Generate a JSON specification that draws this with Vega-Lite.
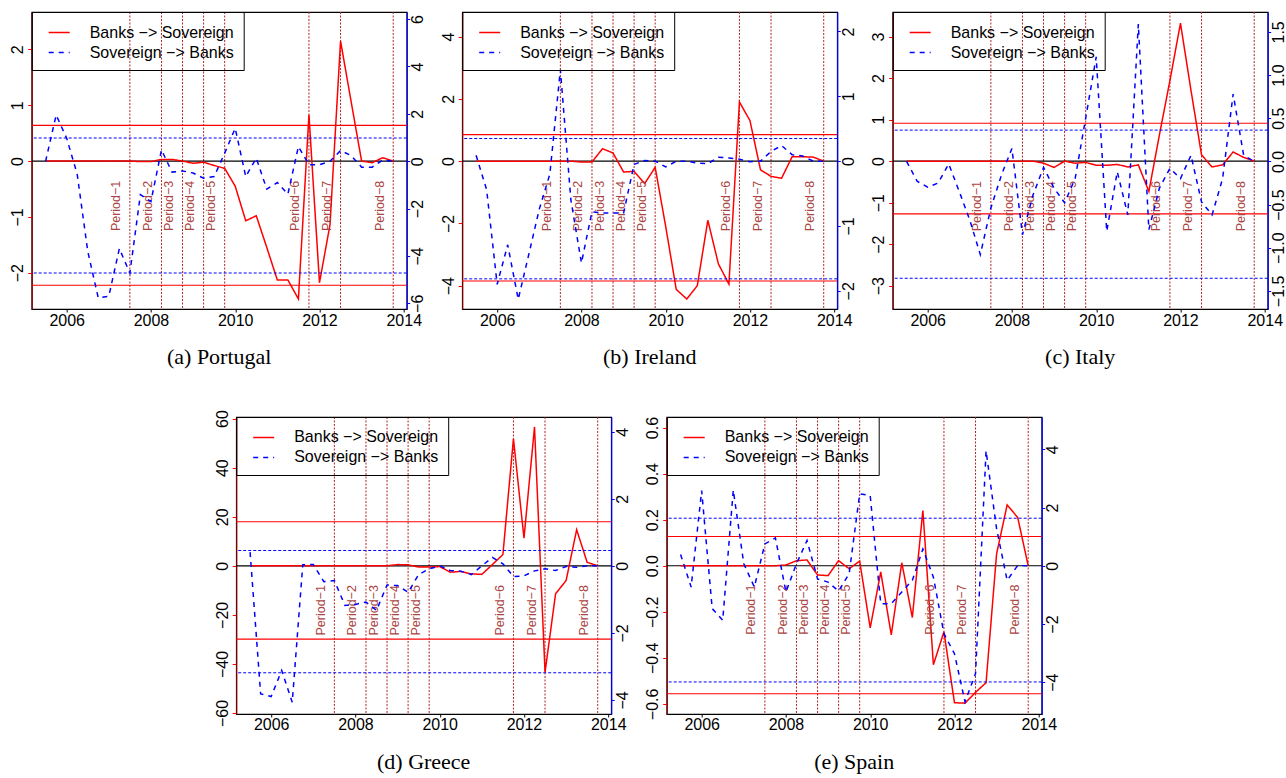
{
"$schema": "https://vega.github.io/schema/vega-lite/v6.json",
"padding": {"left": 8.7, "top": 10, "right": 0, "bottom": 0},
"datasets": {
"periods": [
{"t":2007.5,"p":"Period−1"},{"t":2008.25,"p":"Period−2"},{"t":2008.75,"p":"Period−3"},{"t":2009.25,"p":"Period−4"},{"t":2009.75,"p":"Period−5"},{"t":2011.75,"p":"Period−6"},{"t":2012.5,"p":"Period−7"},{"t":2013.75,"p":"Period−8"}
],
"ref": [
{"c":"PT","side":"L","v":0.64},{"c":"PT","side":"L","v":-2.225},{"c":"PT","side":"R","v":0.98},{"c":"PT","side":"R","v":-4.72},{"c":"PT","side":"Z","v":0},
{"c":"IE","side":"L","v":0.853},{"c":"IE","side":"L","v":-3.85},{"c":"IE","side":"R","v":0.349},{"c":"IE","side":"R","v":-1.815},{"c":"IE","side":"Z","v":0},
{"c":"IT","side":"L","v":0.912},{"c":"IT","side":"L","v":-1.272},{"c":"IT","side":"R","v":0.362},{"c":"IT","side":"R","v":-1.354},{"c":"IT","side":"Z","v":0},
{"c":"GR","side":"L","v":17.96},{"c":"GR","side":"L","v":-29.9},{"c":"GR","side":"R","v":0.458},{"c":"GR","side":"R","v":-3.19},{"c":"GR","side":"Z","v":0},
{"c":"ES","side":"L","v":0.127},{"c":"ES","side":"L","v":-0.556},{"c":"ES","side":"R","v":1.634},{"c":"ES","side":"R","v":-3.99},{"c":"ES","side":"Z","v":0}
],
"series": [
{"c":"PT","t":2005.5,"bs":0,"sb":0},{"c":"PT","t":2005.75,"bs":0,"sb":1.95},{"c":"PT","t":2006,"bs":0,"sb":0.97},{"c":"PT","t":2006.25,"bs":0,"sb":-0.55},{"c":"PT","t":2006.5,"bs":0,"sb":-3.8},{"c":"PT","t":2006.75,"bs":0,"sb":-5.77},{"c":"PT","t":2007,"bs":0,"sb":-5.7},{"c":"PT","t":2007.25,"bs":0,"sb":-3.69},{"c":"PT","t":2007.5,"bs":0,"sb":-4.72},{"c":"PT","t":2007.75,"bs":-0.01,"sb":-1.41},{"c":"PT","t":2008,"bs":-0.01,"sb":-1.7},{"c":"PT","t":2008.25,"bs":0.03,"sb":0.48},{"c":"PT","t":2008.5,"bs":0.03,"sb":-0.46},{"c":"PT","t":2008.75,"bs":0,"sb":-0.41},{"c":"PT","t":2009,"bs":-0.04,"sb":-0.5},{"c":"PT","t":2009.25,"bs":-0.02,"sb":-0.72},{"c":"PT","t":2009.5,"bs":-0.08,"sb":-0.65},{"c":"PT","t":2009.75,"bs":-0.13,"sb":0.34},{"c":"PT","t":2010,"bs":-0.45,"sb":1.39},{"c":"PT","t":2010.25,"bs":-1.07,"sb":-0.65},{"c":"PT","t":2010.5,"bs":-0.98,"sb":0.13},{"c":"PT","t":2010.75,"bs":-1.55,"sb":-1.18},{"c":"PT","t":2011,"bs":-2.13,"sb":-0.9},{"c":"PT","t":2011.25,"bs":-2.13,"sb":-1.39},{"c":"PT","t":2011.5,"bs":-2.47,"sb":0.62},{"c":"PT","t":2011.75,"bs":0.83,"sb":-0.15},{"c":"PT","t":2012,"bs":-2.18,"sb":-0.15},{"c":"PT","t":2012.25,"bs":-1.14,"sb":0},{"c":"PT","t":2012.5,"bs":2.15,"sb":0.45},{"c":"PT","t":2012.75,"bs":1.07,"sb":0.24},{"c":"PT","t":2013,"bs":0,"sb":-0.25},{"c":"PT","t":2013.25,"bs":-0.03,"sb":-0.25},{"c":"PT","t":2013.5,"bs":0.06,"sb":0.05},{"c":"PT","t":2013.75,"bs":0,"sb":0},
{"c":"IE","t":2005.5,"bs":0,"sb":0.09},{"c":"IE","t":2005.75,"bs":0,"sb":-0.44},{"c":"IE","t":2006,"bs":0,"sb":-1.9},{"c":"IE","t":2006.25,"bs":0,"sb":-1.29},{"c":"IE","t":2006.5,"bs":0,"sb":-2.13},{"c":"IE","t":2006.75,"bs":0,"sb":-1.44},{"c":"IE","t":2007,"bs":0,"sb":-0.74},{"c":"IE","t":2007.25,"bs":0,"sb":-0.2},{"c":"IE","t":2007.5,"bs":0,"sb":1.41},{"c":"IE","t":2007.75,"bs":0,"sb":-0.6},{"c":"IE","t":2008,"bs":-0.03,"sb":-1.57},{"c":"IE","t":2008.25,"bs":-0.03,"sb":-0.78},{"c":"IE","t":2008.5,"bs":0.4,"sb":-0.8},{"c":"IE","t":2008.75,"bs":0.26,"sb":-0.8},{"c":"IE","t":2009,"bs":-0.35,"sb":-0.8},{"c":"IE","t":2009.25,"bs":-0.33,"sb":-0.05},{"c":"IE","t":2009.5,"bs":-0.72,"sb":0.01},{"c":"IE","t":2009.75,"bs":-0.2,"sb":0},{"c":"IE","t":2010,"bs":-2.1,"sb":-0.09},{"c":"IE","t":2010.25,"bs":-4.12,"sb":0},{"c":"IE","t":2010.5,"bs":-4.43,"sb":0},{"c":"IE","t":2010.75,"bs":-4.0,"sb":-0.03},{"c":"IE","t":2011,"bs":-1.9,"sb":-0.04},{"c":"IE","t":2011.25,"bs":-3.3,"sb":0.06},{"c":"IE","t":2011.5,"bs":-3.95,"sb":0.05},{"c":"IE","t":2011.75,"bs":1.9,"sb":0.03},{"c":"IE","t":2012,"bs":1.3,"sb":-0.01},{"c":"IE","t":2012.25,"bs":-0.28,"sb":0},{"c":"IE","t":2012.5,"bs":-0.49,"sb":0.15},{"c":"IE","t":2012.75,"bs":-0.55,"sb":0.24},{"c":"IE","t":2013,"bs":0.14,"sb":0.1},{"c":"IE","t":2013.25,"bs":0.14,"sb":0.08},{"c":"IE","t":2013.5,"bs":0.13,"sb":0},{"c":"IE","t":2013.75,"bs":0,"sb":0},
{"c":"IT","t":2005.5,"bs":0,"sb":0},{"c":"IT","t":2005.75,"bs":0,"sb":-0.23},{"c":"IT","t":2006,"bs":0,"sb":-0.3},{"c":"IT","t":2006.25,"bs":0,"sb":-0.25},{"c":"IT","t":2006.5,"bs":0,"sb":-0.03},{"c":"IT","t":2006.75,"bs":0,"sb":-0.35},{"c":"IT","t":2007,"bs":0,"sb":-0.68},{"c":"IT","t":2007.25,"bs":0,"sb":-1.08},{"c":"IT","t":2007.5,"bs":0,"sb":-0.54},{"c":"IT","t":2007.75,"bs":0,"sb":-0.16},{"c":"IT","t":2008,"bs":0,"sb":0.15},{"c":"IT","t":2008.25,"bs":0,"sb":-0.85},{"c":"IT","t":2008.5,"bs":0,"sb":-0.39},{"c":"IT","t":2008.75,"bs":-0.05,"sb":-0.07},{"c":"IT","t":2009,"bs":-0.15,"sb":-0.31},{"c":"IT","t":2009.25,"bs":0,"sb":-0.48},{"c":"IT","t":2009.5,"bs":-0.05,"sb":-0.2},{"c":"IT","t":2009.75,"bs":-0.03,"sb":0.5},{"c":"IT","t":2010,"bs":-0.1,"sb":1.21},{"c":"IT","t":2010.25,"bs":-0.1,"sb":-0.81},{"c":"IT","t":2010.5,"bs":-0.08,"sb":-0.12},{"c":"IT","t":2010.75,"bs":-0.14,"sb":-0.62},{"c":"IT","t":2011,"bs":-0.09,"sb":1.59},{"c":"IT","t":2011.25,"bs":-0.73,"sb":-0.79},{"c":"IT","t":2011.5,"bs":0.63,"sb":-0.31},{"c":"IT","t":2011.75,"bs":1.94,"sb":-0.08},{"c":"IT","t":2012,"bs":3.32,"sb":-0.2},{"c":"IT","t":2012.25,"bs":1.7,"sb":0.07},{"c":"IT","t":2012.5,"bs":0.15,"sb":-0.47},{"c":"IT","t":2012.75,"bs":-0.14,"sb":-0.62},{"c":"IT","t":2013,"bs":-0.09,"sb":-0.2},{"c":"IT","t":2013.25,"bs":0.22,"sb":0.78},{"c":"IT","t":2013.5,"bs":0.09,"sb":0.07},{"c":"IT","t":2013.75,"bs":0,"sb":0},
{"c":"GR","t":2005.5,"bs":0,"sb":0.41},{"c":"GR","t":2005.75,"bs":0,"sb":-3.82},{"c":"GR","t":2006,"bs":0,"sb":-3.9},{"c":"GR","t":2006.25,"bs":0,"sb":-3.12},{"c":"GR","t":2006.5,"bs":0,"sb":-4.07},{"c":"GR","t":2006.75,"bs":0,"sb":0.03},{"c":"GR","t":2007,"bs":0,"sb":0.04},{"c":"GR","t":2007.25,"bs":0,"sb":-0.47},{"c":"GR","t":2007.5,"bs":0,"sb":-0.44},{"c":"GR","t":2007.75,"bs":0,"sb":-1.18},{"c":"GR","t":2008,"bs":0,"sb":-1.15},{"c":"GR","t":2008.25,"bs":0,"sb":-1.08},{"c":"GR","t":2008.5,"bs":0,"sb":-1.33},{"c":"GR","t":2008.75,"bs":0,"sb":-0.57},{"c":"GR","t":2009,"bs":0.5,"sb":-0.59},{"c":"GR","t":2009.25,"bs":0.4,"sb":-0.79},{"c":"GR","t":2009.5,"bs":-0.5,"sb":-0.26},{"c":"GR","t":2009.75,"bs":-0.5,"sb":-0.09},{"c":"GR","t":2010,"bs":-0.3,"sb":0},{"c":"GR","t":2010.25,"bs":-2.6,"sb":-0.14},{"c":"GR","t":2010.5,"bs":-2.3,"sb":-0.16},{"c":"GR","t":2010.75,"bs":-3.3,"sb":-0.26},{"c":"GR","t":2011,"bs":-3.5,"sb":0},{"c":"GR","t":2011.25,"bs":0.5,"sb":0.25},{"c":"GR","t":2011.5,"bs":4.6,"sb":0.06},{"c":"GR","t":2011.75,"bs":51.8,"sb":-0.32},{"c":"GR","t":2012,"bs":11.3,"sb":-0.3},{"c":"GR","t":2012.25,"bs":56.6,"sb":-0.15},{"c":"GR","t":2012.5,"bs":-43.4,"sb":-0.09},{"c":"GR","t":2012.75,"bs":-11.4,"sb":-0.14},{"c":"GR","t":2013,"bs":-6.0,"sb":-0.02},{"c":"GR","t":2013.25,"bs":14.7,"sb":-0.04},{"c":"GR","t":2013.5,"bs":1.4,"sb":0},{"c":"GR","t":2013.75,"bs":0,"sb":0},
{"c":"ES","t":2005.5,"bs":0,"sb":0.39},{"c":"ES","t":2005.75,"bs":0,"sb":-0.73},{"c":"ES","t":2006,"bs":0,"sb":2.58},{"c":"ES","t":2006.25,"bs":0,"sb":-1.47},{"c":"ES","t":2006.5,"bs":0,"sb":-1.87},{"c":"ES","t":2006.75,"bs":0,"sb":2.6},{"c":"ES","t":2007,"bs":0,"sb":0.07},{"c":"ES","t":2007.25,"bs":0,"sb":-0.73},{"c":"ES","t":2007.5,"bs":0,"sb":0.75},{"c":"ES","t":2007.75,"bs":0,"sb":0.96},{"c":"ES","t":2008,"bs":0.003,"sb":-0.9},{"c":"ES","t":2008.25,"bs":0.022,"sb":0.07},{"c":"ES","t":2008.5,"bs":0.025,"sb":0.87},{"c":"ES","t":2008.75,"bs":-0.04,"sb":-0.45},{"c":"ES","t":2009,"bs":-0.043,"sb":-0.56},{"c":"ES","t":2009.25,"bs":0.022,"sb":-0.87},{"c":"ES","t":2009.5,"bs":-0.013,"sb":-0.27},{"c":"ES","t":2009.75,"bs":0.02,"sb":2.47},{"c":"ES","t":2010,"bs":-0.27,"sb":2.41},{"c":"ES","t":2010.25,"bs":-0.027,"sb":-1.3},{"c":"ES","t":2010.5,"bs":-0.3,"sb":-1.3},{"c":"ES","t":2010.75,"bs":0.013,"sb":-0.9},{"c":"ES","t":2011,"bs":-0.225,"sb":-0.5},{"c":"ES","t":2011.25,"bs":0.24,"sb":0.58},{"c":"ES","t":2011.5,"bs":-0.43,"sb":-0.39},{"c":"ES","t":2011.75,"bs":-0.287,"sb":-2.33},{"c":"ES","t":2012,"bs":-0.595,"sb":-3.02},{"c":"ES","t":2012.25,"bs":-0.597,"sb":-4.67},{"c":"ES","t":2012.5,"bs":-0.55,"sb":-3.7},{"c":"ES","t":2012.75,"bs":-0.508,"sb":3.95},{"c":"ES","t":2013,"bs":0.052,"sb":1.27},{"c":"ES","t":2013.25,"bs":0.264,"sb":-0.5},{"c":"ES","t":2013.5,"bs":0.21,"sb":0.01},{"c":"ES","t":2013.75,"bs":0,"sb":0}
]
},
"spacing": 40,
"resolve": {"scale": {"x": "independent", "y": "independent", "stroke": "independent", "strokeDash": "independent"}, "legend": {"stroke": "independent", "strokeDash": "independent"}},
"vconcat": [
{"hconcat": [
{"width": 375, "height": 297, "title": {"text": "(a) Portugal", "orient": "bottom", "frame": "group", "offset": 19},
 "layer": [
  {"layer": [
   {"data": {"name": "periods"}, "mark": {"type": "rule", "color": "#b22222", "strokeDash": [2, 1.5], "strokeWidth": 1},
    "encoding": {"x": {"field": "t", "type": "quantitative", "title": null, "scale": {"domain": [2005.17, 2014.07], "nice": false, "zero": false}, "axis": {"values": [2006, 2008, 2010, 2012, 2014], "format": "d", "labelPadding": 0, "tickSize": 3}}}},
   {"data": {"name": "ref"}, "transform": [{"filter": "datum.c == 'PT' && datum.side != 'R'"}], "mark": {"type": "rule", "strokeWidth": 1.2},
    "encoding": {"y": {"field": "v", "type": "quantitative", "title": null, "scale": {"domain": [-2.65, 2.67], "nice": false, "zero": false}, "axis": {"orient": "left", "values": [-2, -1, 0, 1, 2], "labelAngle": 270, "labelAlign": "center", "labelBaseline": "bottom", "labelPadding": 2, "tickColor": "red", "domainColor": "#8b0000"}},
     "color": {"condition": {"test": "datum.side == 'Z'", "value": "black"}, "value": "red"}}},
   {"data": {"name": "series"}, "transform": [{"filter": "datum.c == 'PT'"}], "mark": {"type": "line", "strokeWidth": 1.5},
    "encoding": {"x": {"field": "t", "type": "quantitative", "title": null, "scale": {"domain": [2005.17, 2014.07], "nice": false, "zero": false}, "axis": {"values": [2006, 2008, 2010, 2012, 2014], "format": "d", "labelPadding": 0, "tickSize": 3}},
     "y": {"field": "bs", "type": "quantitative", "title": null, "scale": {"domain": [-2.65, 2.67], "nice": false, "zero": false}, "axis": {"orient": "left", "values": [-2, -1, 0, 1, 2], "labelAngle": 270, "labelAlign": "center", "labelBaseline": "bottom", "labelPadding": 2, "tickColor": "red", "domainColor": "#8b0000"}},
     "stroke": {"datum": "Banks −> Sovereign", "type": "nominal", "scale": {"domain": ["Banks −> Sovereign", "Sovereign −> Banks"], "range": ["#ff0000", "#0000ff"]}, "legend": {"title": null}},
     "strokeDash": {"datum": "Banks −> Sovereign", "type": "nominal", "scale": {"domain": ["Banks −> Sovereign", "Sovereign −> Banks"], "range": [[1, 0], [5, 5]]}, "legend": {"title": null}}}},
   {"data": {"name": "periods"}, "mark": {"type": "text", "angle": 270, "align": "left", "baseline": "middle", "dy": -13.5, "fontSize": 12.5, "font": "Liberation Sans", "color": "#a94442"},
    "encoding": {"x": {"field": "t", "type": "quantitative", "title": null, "scale": {"domain": [2005.17, 2014.07], "nice": false, "zero": false}, "axis": {"values": [2006, 2008, 2010, 2012, 2014], "format": "d", "labelPadding": 0, "tickSize": 3}},
     "y": {"datum": -1.255, "type": "quantitative", "title": null, "scale": {"domain": [-2.65, 2.67], "nice": false, "zero": false}, "axis": {"orient": "left", "values": [-2, -1, 0, 1, 2], "labelAngle": 270, "labelAlign": "center", "labelBaseline": "bottom", "labelPadding": 2, "tickColor": "red", "domainColor": "#8b0000"}},
     "text": {"field": "p"}}}
  ]},
  {"layer": [
   {"data": {"name": "ref"}, "transform": [{"filter": "datum.c == 'PT' && datum.side == 'R'"}], "mark": {"type": "rule", "color": "#0000ff", "strokeDash": [3, 2], "strokeWidth": 1},
    "encoding": {"y": {"field": "v", "type": "quantitative", "title": null, "scale": {"domain": [-6.24, 6.3], "nice": false, "zero": false}, "axis": {"orient": "right", "values": [-6, -4, -2, 0, 2, 4, 6], "labelAngle": 270, "labelAlign": "center", "labelBaseline": "top", "labelPadding": 0, "tickSize": 3, "tickColor": "#0000ff", "domainColor": "#0000ff"}}}},
   {"data": {"name": "series"}, "transform": [{"filter": "datum.c == 'PT'"}], "mark": {"type": "line", "strokeWidth": 1.5},
    "encoding": {"x": {"field": "t", "type": "quantitative", "title": null, "scale": {"domain": [2005.17, 2014.07], "nice": false, "zero": false}, "axis": {"values": [2006, 2008, 2010, 2012, 2014], "format": "d", "labelPadding": 0, "tickSize": 3}},
     "y": {"field": "sb", "type": "quantitative", "title": null, "scale": {"domain": [-6.24, 6.3], "nice": false, "zero": false}, "axis": {"orient": "right", "values": [-6, -4, -2, 0, 2, 4, 6], "labelAngle": 270, "labelAlign": "center", "labelBaseline": "top", "labelPadding": 0, "tickSize": 3, "tickColor": "#0000ff", "domainColor": "#0000ff"}},
     "stroke": {"datum": "Sovereign −> Banks", "type": "nominal", "scale": {"domain": ["Banks −> Sovereign", "Sovereign −> Banks"], "range": ["#ff0000", "#0000ff"]}, "legend": {"title": null}},
     "strokeDash": {"datum": "Sovereign −> Banks", "type": "nominal", "scale": {"domain": ["Banks −> Sovereign", "Sovereign −> Banks"], "range": [[1, 0], [5, 5]]}, "legend": {"title": null}}}}
  ]}
 ],
 "resolve": {"scale": {"y": "independent"}}},
{"width": 375, "height": 297, "title": {"text": "(b) Ireland", "orient": "bottom", "frame": "group", "offset": 19},
 "layer": [
  {"layer": [
   {"data": {"name": "periods"}, "mark": {"type": "rule", "color": "#b22222", "strokeDash": [2, 1.5], "strokeWidth": 1},
    "encoding": {"x": {"field": "t", "type": "quantitative", "title": null, "scale": {"domain": [2005.17, 2014.07], "nice": false, "zero": false}, "axis": {"values": [2006, 2008, 2010, 2012, 2014], "format": "d", "labelPadding": 0, "tickSize": 3}}}},
   {"data": {"name": "ref"}, "transform": [{"filter": "datum.c == 'IE' && datum.side != 'R'"}], "mark": {"type": "rule", "strokeWidth": 1.2},
    "encoding": {"y": {"field": "v", "type": "quantitative", "title": null, "scale": {"domain": [-4.75, 4.79], "nice": false, "zero": false}, "axis": {"orient": "left", "values": [-4, -2, 0, 2, 4], "labelAngle": 270, "labelAlign": "center", "labelBaseline": "bottom", "labelPadding": 2, "tickColor": "red", "domainColor": "#8b0000"}},
     "color": {"condition": {"test": "datum.side == 'Z'", "value": "black"}, "value": "red"}}},
   {"data": {"name": "series"}, "transform": [{"filter": "datum.c == 'IE'"}], "mark": {"type": "line", "strokeWidth": 1.5},
    "encoding": {"x": {"field": "t", "type": "quantitative", "title": null, "scale": {"domain": [2005.17, 2014.07], "nice": false, "zero": false}, "axis": {"values": [2006, 2008, 2010, 2012, 2014], "format": "d", "labelPadding": 0, "tickSize": 3}},
     "y": {"field": "bs", "type": "quantitative", "title": null, "scale": {"domain": [-4.75, 4.79], "nice": false, "zero": false}, "axis": {"orient": "left", "values": [-4, -2, 0, 2, 4], "labelAngle": 270, "labelAlign": "center", "labelBaseline": "bottom", "labelPadding": 2, "tickColor": "red", "domainColor": "#8b0000"}},
     "stroke": {"datum": "Banks −> Sovereign", "type": "nominal", "scale": {"domain": ["Banks −> Sovereign", "Sovereign −> Banks"], "range": ["#ff0000", "#0000ff"]}, "legend": {"title": null}},
     "strokeDash": {"datum": "Banks −> Sovereign", "type": "nominal", "scale": {"domain": ["Banks −> Sovereign", "Sovereign −> Banks"], "range": [[1, 0], [5, 5]]}, "legend": {"title": null}}}},
   {"data": {"name": "periods"}, "mark": {"type": "text", "angle": 270, "align": "left", "baseline": "middle", "dy": -13.5, "fontSize": 12.5, "font": "Liberation Sans", "color": "#a94442"},
    "encoding": {"x": {"field": "t", "type": "quantitative", "title": null, "scale": {"domain": [2005.17, 2014.07], "nice": false, "zero": false}, "axis": {"values": [2006, 2008, 2010, 2012, 2014], "format": "d", "labelPadding": 0, "tickSize": 3}},
     "y": {"datum": -2.25, "type": "quantitative", "title": null, "scale": {"domain": [-4.75, 4.79], "nice": false, "zero": false}, "axis": {"orient": "left", "values": [-4, -2, 0, 2, 4], "labelAngle": 270, "labelAlign": "center", "labelBaseline": "bottom", "labelPadding": 2, "tickColor": "red", "domainColor": "#8b0000"}},
     "text": {"field": "p"}}}
  ]},
  {"layer": [
   {"data": {"name": "ref"}, "transform": [{"filter": "datum.c == 'IE' && datum.side == 'R'"}], "mark": {"type": "rule", "color": "#0000ff", "strokeDash": [3, 2], "strokeWidth": 1},
    "encoding": {"y": {"field": "v", "type": "quantitative", "title": null, "scale": {"domain": [-2.28, 2.3], "nice": false, "zero": false}, "axis": {"orient": "right", "values": [-2, -1, 0, 1, 2], "labelAngle": 270, "labelAlign": "center", "labelBaseline": "top", "labelPadding": 0, "tickSize": 3, "tickColor": "#0000ff", "domainColor": "#0000ff"}}}},
   {"data": {"name": "series"}, "transform": [{"filter": "datum.c == 'IE'"}], "mark": {"type": "line", "strokeWidth": 1.5},
    "encoding": {"x": {"field": "t", "type": "quantitative", "title": null, "scale": {"domain": [2005.17, 2014.07], "nice": false, "zero": false}, "axis": {"values": [2006, 2008, 2010, 2012, 2014], "format": "d", "labelPadding": 0, "tickSize": 3}},
     "y": {"field": "sb", "type": "quantitative", "title": null, "scale": {"domain": [-2.28, 2.3], "nice": false, "zero": false}, "axis": {"orient": "right", "values": [-2, -1, 0, 1, 2], "labelAngle": 270, "labelAlign": "center", "labelBaseline": "top", "labelPadding": 0, "tickSize": 3, "tickColor": "#0000ff", "domainColor": "#0000ff"}},
     "stroke": {"datum": "Sovereign −> Banks", "type": "nominal", "scale": {"domain": ["Banks −> Sovereign", "Sovereign −> Banks"], "range": ["#ff0000", "#0000ff"]}, "legend": {"title": null}},
     "strokeDash": {"datum": "Sovereign −> Banks", "type": "nominal", "scale": {"domain": ["Banks −> Sovereign", "Sovereign −> Banks"], "range": [[1, 0], [5, 5]]}, "legend": {"title": null}}}}
  ]}
 ],
 "resolve": {"scale": {"y": "independent"}}},
{"width": 375, "height": 297, "title": {"text": "(c) Italy", "orient": "bottom", "frame": "group", "offset": 19},
 "layer": [
  {"layer": [
   {"data": {"name": "periods"}, "mark": {"type": "rule", "color": "#b22222", "strokeDash": [2, 1.5], "strokeWidth": 1},
    "encoding": {"x": {"field": "t", "type": "quantitative", "title": null, "scale": {"domain": [2005.17, 2014.07], "nice": false, "zero": false}, "axis": {"values": [2006, 2008, 2010, 2012, 2014], "format": "d", "labelPadding": 0, "tickSize": 3}}}},
   {"data": {"name": "ref"}, "transform": [{"filter": "datum.c == 'IT' && datum.side != 'R'"}], "mark": {"type": "rule", "strokeWidth": 1.2},
    "encoding": {"y": {"field": "v", "type": "quantitative", "title": null, "scale": {"domain": [-3.56, 3.59], "nice": false, "zero": false}, "axis": {"orient": "left", "values": [-3, -2, -1, 0, 1, 2, 3], "labelAngle": 270, "labelAlign": "center", "labelBaseline": "bottom", "labelPadding": 2, "tickColor": "red", "domainColor": "#8b0000"}},
     "color": {"condition": {"test": "datum.side == 'Z'", "value": "black"}, "value": "red"}}},
   {"data": {"name": "series"}, "transform": [{"filter": "datum.c == 'IT'"}], "mark": {"type": "line", "strokeWidth": 1.5},
    "encoding": {"x": {"field": "t", "type": "quantitative", "title": null, "scale": {"domain": [2005.17, 2014.07], "nice": false, "zero": false}, "axis": {"values": [2006, 2008, 2010, 2012, 2014], "format": "d", "labelPadding": 0, "tickSize": 3}},
     "y": {"field": "bs", "type": "quantitative", "title": null, "scale": {"domain": [-3.56, 3.59], "nice": false, "zero": false}, "axis": {"orient": "left", "values": [-3, -2, -1, 0, 1, 2, 3], "labelAngle": 270, "labelAlign": "center", "labelBaseline": "bottom", "labelPadding": 2, "tickColor": "red", "domainColor": "#8b0000"}},
     "stroke": {"datum": "Banks −> Sovereign", "type": "nominal", "scale": {"domain": ["Banks −> Sovereign", "Sovereign −> Banks"], "range": ["#ff0000", "#0000ff"]}, "legend": {"title": null}},
     "strokeDash": {"datum": "Banks −> Sovereign", "type": "nominal", "scale": {"domain": ["Banks −> Sovereign", "Sovereign −> Banks"], "range": [[1, 0], [5, 5]]}, "legend": {"title": null}}}},
   {"data": {"name": "periods"}, "mark": {"type": "text", "angle": 270, "align": "left", "baseline": "middle", "dy": -13.5, "fontSize": 12.5, "font": "Liberation Sans", "color": "#a94442"},
    "encoding": {"x": {"field": "t", "type": "quantitative", "title": null, "scale": {"domain": [2005.17, 2014.07], "nice": false, "zero": false}, "axis": {"values": [2006, 2008, 2010, 2012, 2014], "format": "d", "labelPadding": 0, "tickSize": 3}},
     "y": {"datum": -1.69, "type": "quantitative", "title": null, "scale": {"domain": [-3.56, 3.59], "nice": false, "zero": false}, "axis": {"orient": "left", "values": [-3, -2, -1, 0, 1, 2, 3], "labelAngle": 270, "labelAlign": "center", "labelBaseline": "bottom", "labelPadding": 2, "tickColor": "red", "domainColor": "#8b0000"}},
     "text": {"field": "p"}}}
  ]},
  {"layer": [
   {"data": {"name": "ref"}, "transform": [{"filter": "datum.c == 'IT' && datum.side == 'R'"}], "mark": {"type": "rule", "color": "#0000ff", "strokeDash": [3, 2], "strokeWidth": 1},
    "encoding": {"y": {"field": "v", "type": "quantitative", "title": null, "scale": {"domain": [-1.71, 1.73], "nice": false, "zero": false}, "axis": {"orient": "right", "values": [-1.5, -1, -0.5, 0, 0.5, 1, 1.5], "format": ".1f", "labelAngle": 270, "labelAlign": "center", "labelBaseline": "top", "labelPadding": 0, "tickSize": 3, "tickColor": "#0000ff", "domainColor": "#0000ff"}}}},
   {"data": {"name": "series"}, "transform": [{"filter": "datum.c == 'IT'"}], "mark": {"type": "line", "strokeWidth": 1.5},
    "encoding": {"x": {"field": "t", "type": "quantitative", "title": null, "scale": {"domain": [2005.17, 2014.07], "nice": false, "zero": false}, "axis": {"values": [2006, 2008, 2010, 2012, 2014], "format": "d", "labelPadding": 0, "tickSize": 3}},
     "y": {"field": "sb", "type": "quantitative", "title": null, "scale": {"domain": [-1.71, 1.73], "nice": false, "zero": false}, "axis": {"orient": "right", "values": [-1.5, -1, -0.5, 0, 0.5, 1, 1.5], "format": ".1f", "labelAngle": 270, "labelAlign": "center", "labelBaseline": "top", "labelPadding": 0, "tickSize": 3, "tickColor": "#0000ff", "domainColor": "#0000ff"}},
     "stroke": {"datum": "Sovereign −> Banks", "type": "nominal", "scale": {"domain": ["Banks −> Sovereign", "Sovereign −> Banks"], "range": ["#ff0000", "#0000ff"]}, "legend": {"title": null}},
     "strokeDash": {"datum": "Sovereign −> Banks", "type": "nominal", "scale": {"domain": ["Banks −> Sovereign", "Sovereign −> Banks"], "range": [[1, 0], [5, 5]]}, "legend": {"title": null}}}}
  ]}
 ],
 "resolve": {"scale": {"y": "independent"}}}
], "spacing": 12.5,
"resolve": {"scale": {"x": "independent", "y": "independent", "stroke": "independent", "strokeDash": "independent"}, "legend": {"stroke": "independent", "strokeDash": "independent"}}},
{"hconcat": [
{"width": 168.8, "height": 297, "data": {"values": []}, "mark": "point", "view": {"stroke": null}},
{"width": 375, "height": 297, "title": {"text": "(d) Greece", "orient": "bottom", "frame": "group", "offset": 19},
 "layer": [
  {"layer": [
   {"data": {"name": "periods"}, "mark": {"type": "rule", "color": "#b22222", "strokeDash": [2, 1.5], "strokeWidth": 1},
    "encoding": {"x": {"field": "t", "type": "quantitative", "title": null, "scale": {"domain": [2005.17, 2014.07], "nice": false, "zero": false}, "axis": {"values": [2006, 2008, 2010, 2012, 2014], "format": "d", "labelPadding": 0, "tickSize": 3}}}},
   {"data": {"name": "ref"}, "transform": [{"filter": "datum.c == 'GR' && datum.side != 'R'"}], "mark": {"type": "rule", "strokeWidth": 1.2},
    "encoding": {"y": {"field": "v", "type": "quantitative", "title": null, "scale": {"domain": [-60.4, 60.65], "nice": false, "zero": false}, "axis": {"orient": "left", "values": [-60, -40, -20, 0, 20, 40, 60], "labelAngle": 270, "labelAlign": "center", "labelBaseline": "bottom", "labelPadding": 2, "tickColor": "red", "domainColor": "#8b0000"}},
     "color": {"condition": {"test": "datum.side == 'Z'", "value": "black"}, "value": "red"}}},
   {"data": {"name": "series"}, "transform": [{"filter": "datum.c == 'GR'"}], "mark": {"type": "line", "strokeWidth": 1.5},
    "encoding": {"x": {"field": "t", "type": "quantitative", "title": null, "scale": {"domain": [2005.17, 2014.07], "nice": false, "zero": false}, "axis": {"values": [2006, 2008, 2010, 2012, 2014], "format": "d", "labelPadding": 0, "tickSize": 3}},
     "y": {"field": "bs", "type": "quantitative", "title": null, "scale": {"domain": [-60.4, 60.65], "nice": false, "zero": false}, "axis": {"orient": "left", "values": [-60, -40, -20, 0, 20, 40, 60], "labelAngle": 270, "labelAlign": "center", "labelBaseline": "bottom", "labelPadding": 2, "tickColor": "red", "domainColor": "#8b0000"}},
     "stroke": {"datum": "Banks −> Sovereign", "type": "nominal", "scale": {"domain": ["Banks −> Sovereign", "Sovereign −> Banks"], "range": ["#ff0000", "#0000ff"]}, "legend": {"title": null}},
     "strokeDash": {"datum": "Banks −> Sovereign", "type": "nominal", "scale": {"domain": ["Banks −> Sovereign", "Sovereign −> Banks"], "range": [[1, 0], [5, 5]]}, "legend": {"title": null}}}},
   {"data": {"name": "periods"}, "mark": {"type": "text", "angle": 270, "align": "left", "baseline": "middle", "dy": -13.5, "fontSize": 12.5, "font": "Liberation Sans", "color": "#a94442"},
    "encoding": {"x": {"field": "t", "type": "quantitative", "title": null, "scale": {"domain": [2005.17, 2014.07], "nice": false, "zero": false}, "axis": {"values": [2006, 2008, 2010, 2012, 2014], "format": "d", "labelPadding": 0, "tickSize": 3}},
     "y": {"datum": -28.4, "type": "quantitative", "title": null, "scale": {"domain": [-60.4, 60.65], "nice": false, "zero": false}, "axis": {"orient": "left", "values": [-60, -40, -20, 0, 20, 40, 60], "labelAngle": 270, "labelAlign": "center", "labelBaseline": "bottom", "labelPadding": 2, "tickColor": "red", "domainColor": "#8b0000"}},
     "text": {"field": "p"}}}
  ]},
  {"layer": [
   {"data": {"name": "ref"}, "transform": [{"filter": "datum.c == 'GR' && datum.side == 'R'"}], "mark": {"type": "rule", "color": "#0000ff", "strokeDash": [3, 2], "strokeWidth": 1},
    "encoding": {"y": {"field": "v", "type": "quantitative", "title": null, "scale": {"domain": [-4.42, 4.44], "nice": false, "zero": false}, "axis": {"orient": "right", "values": [-4, -2, 0, 2, 4], "labelAngle": 270, "labelAlign": "center", "labelBaseline": "top", "labelPadding": 0, "tickSize": 3, "tickColor": "#0000ff", "domainColor": "#0000ff"}}}},
   {"data": {"name": "series"}, "transform": [{"filter": "datum.c == 'GR'"}], "mark": {"type": "line", "strokeWidth": 1.5},
    "encoding": {"x": {"field": "t", "type": "quantitative", "title": null, "scale": {"domain": [2005.17, 2014.07], "nice": false, "zero": false}, "axis": {"values": [2006, 2008, 2010, 2012, 2014], "format": "d", "labelPadding": 0, "tickSize": 3}},
     "y": {"field": "sb", "type": "quantitative", "title": null, "scale": {"domain": [-4.42, 4.44], "nice": false, "zero": false}, "axis": {"orient": "right", "values": [-4, -2, 0, 2, 4], "labelAngle": 270, "labelAlign": "center", "labelBaseline": "top", "labelPadding": 0, "tickSize": 3, "tickColor": "#0000ff", "domainColor": "#0000ff"}},
     "stroke": {"datum": "Sovereign −> Banks", "type": "nominal", "scale": {"domain": ["Banks −> Sovereign", "Sovereign −> Banks"], "range": ["#ff0000", "#0000ff"]}, "legend": {"title": null}},
     "strokeDash": {"datum": "Sovereign −> Banks", "type": "nominal", "scale": {"domain": ["Banks −> Sovereign", "Sovereign −> Banks"], "range": [[1, 0], [5, 5]]}, "legend": {"title": null}}}}
  ]}
 ],
 "resolve": {"scale": {"y": "independent"}}},
{"width": 375, "height": 297, "title": {"text": "(e) Spain", "orient": "bottom", "frame": "group", "offset": 19},
 "layer": [
  {"layer": [
   {"data": {"name": "periods"}, "mark": {"type": "rule", "color": "#b22222", "strokeDash": [2, 1.5], "strokeWidth": 1},
    "encoding": {"x": {"field": "t", "type": "quantitative", "title": null, "scale": {"domain": [2005.17, 2014.07], "nice": false, "zero": false}, "axis": {"values": [2006, 2008, 2010, 2012, 2014], "format": "d", "labelPadding": 0, "tickSize": 3}}}},
   {"data": {"name": "ref"}, "transform": [{"filter": "datum.c == 'ES' && datum.side != 'R'"}], "mark": {"type": "rule", "strokeWidth": 1.2},
    "encoding": {"y": {"field": "v", "type": "quantitative", "title": null, "scale": {"domain": [-0.644, 0.646], "nice": false, "zero": false}, "axis": {"orient": "left", "values": [-0.6, -0.4, -0.2, 0, 0.2, 0.4, 0.6], "format": ".1f", "labelAngle": 270, "labelAlign": "center", "labelBaseline": "bottom", "labelPadding": 2, "tickColor": "red", "domainColor": "#8b0000"}},
     "color": {"condition": {"test": "datum.side == 'Z'", "value": "black"}, "value": "red"}}},
   {"data": {"name": "series"}, "transform": [{"filter": "datum.c == 'ES'"}], "mark": {"type": "line", "strokeWidth": 1.5},
    "encoding": {"x": {"field": "t", "type": "quantitative", "title": null, "scale": {"domain": [2005.17, 2014.07], "nice": false, "zero": false}, "axis": {"values": [2006, 2008, 2010, 2012, 2014], "format": "d", "labelPadding": 0, "tickSize": 3}},
     "y": {"field": "bs", "type": "quantitative", "title": null, "scale": {"domain": [-0.644, 0.646], "nice": false, "zero": false}, "axis": {"orient": "left", "values": [-0.6, -0.4, -0.2, 0, 0.2, 0.4, 0.6], "format": ".1f", "labelAngle": 270, "labelAlign": "center", "labelBaseline": "bottom", "labelPadding": 2, "tickColor": "red", "domainColor": "#8b0000"}},
     "stroke": {"datum": "Banks −> Sovereign", "type": "nominal", "scale": {"domain": ["Banks −> Sovereign", "Sovereign −> Banks"], "range": ["#ff0000", "#0000ff"]}, "legend": {"title": null}},
     "strokeDash": {"datum": "Banks −> Sovereign", "type": "nominal", "scale": {"domain": ["Banks −> Sovereign", "Sovereign −> Banks"], "range": [[1, 0], [5, 5]]}, "legend": {"title": null}}}},
   {"data": {"name": "periods"}, "mark": {"type": "text", "angle": 270, "align": "left", "baseline": "middle", "dy": -13.5, "fontSize": 12.5, "font": "Liberation Sans", "color": "#a94442"},
    "encoding": {"x": {"field": "t", "type": "quantitative", "title": null, "scale": {"domain": [2005.17, 2014.07], "nice": false, "zero": false}, "axis": {"values": [2006, 2008, 2010, 2012, 2014], "format": "d", "labelPadding": 0, "tickSize": 3}},
     "y": {"datum": -0.3, "type": "quantitative", "title": null, "scale": {"domain": [-0.644, 0.646], "nice": false, "zero": false}, "axis": {"orient": "left", "values": [-0.6, -0.4, -0.2, 0, 0.2, 0.4, 0.6], "format": ".1f", "labelAngle": 270, "labelAlign": "center", "labelBaseline": "bottom", "labelPadding": 2, "tickColor": "red", "domainColor": "#8b0000"}},
     "text": {"field": "p"}}}
  ]},
  {"layer": [
   {"data": {"name": "ref"}, "transform": [{"filter": "datum.c == 'ES' && datum.side == 'R'"}], "mark": {"type": "rule", "color": "#0000ff", "strokeDash": [3, 2], "strokeWidth": 1},
    "encoding": {"y": {"field": "v", "type": "quantitative", "title": null, "scale": {"domain": [-5.09, 5.11], "nice": false, "zero": false}, "axis": {"orient": "right", "values": [-4, -2, 0, 2, 4], "labelAngle": 270, "labelAlign": "center", "labelBaseline": "top", "labelPadding": 0, "tickSize": 3, "tickColor": "#0000ff", "domainColor": "#0000ff"}}}},
   {"data": {"name": "series"}, "transform": [{"filter": "datum.c == 'ES'"}], "mark": {"type": "line", "strokeWidth": 1.5},
    "encoding": {"x": {"field": "t", "type": "quantitative", "title": null, "scale": {"domain": [2005.17, 2014.07], "nice": false, "zero": false}, "axis": {"values": [2006, 2008, 2010, 2012, 2014], "format": "d", "labelPadding": 0, "tickSize": 3}},
     "y": {"field": "sb", "type": "quantitative", "title": null, "scale": {"domain": [-5.09, 5.11], "nice": false, "zero": false}, "axis": {"orient": "right", "values": [-4, -2, 0, 2, 4], "labelAngle": 270, "labelAlign": "center", "labelBaseline": "top", "labelPadding": 0, "tickSize": 3, "tickColor": "#0000ff", "domainColor": "#0000ff"}},
     "stroke": {"datum": "Sovereign −> Banks", "type": "nominal", "scale": {"domain": ["Banks −> Sovereign", "Sovereign −> Banks"], "range": ["#ff0000", "#0000ff"]}, "legend": {"title": null}},
     "strokeDash": {"datum": "Sovereign −> Banks", "type": "nominal", "scale": {"domain": ["Banks −> Sovereign", "Sovereign −> Banks"], "range": [[1, 0], [5, 5]]}, "legend": {"title": null}}}}
  ]}
 ],
 "resolve": {"scale": {"y": "independent"}}}
], "spacing": 12.5,
"resolve": {"scale": {"x": "independent", "y": "independent", "stroke": "independent", "strokeDash": "independent"}, "legend": {"stroke": "independent", "strokeDash": "independent"}}}
],
"config": {
 "view": {"stroke": "black", "strokeWidth": 1.2},
 "font": "Liberation Sans",
 "axis": {"labelFont": "Liberation Sans", "labelFontSize": 16, "labelColor": "black", "grid": false, "tickSize": 4, "tickWidth": 1, "domainWidth": 1.2, "labelFlush": false, "labelOverlap": false, "tickColor": "black", "domainColor": "black"},
 "legend": {"orient": "top-left", "offset": 0, "padding": 9, "strokeColor": "black", "labelFont": "Liberation Sans", "labelFontSize": 16, "labelColor": "black", "labelLimit": 0, "symbolSize": 441, "symbolOffset": 7, "symbolStrokeWidth": 1.5, "symbolType": "stroke", "labelOffset": 19, "rowPadding": 0},
 "title": {"font": "Liberation Serif", "fontSize": 22, "fontWeight": "normal", "color": "black"}
}
}
